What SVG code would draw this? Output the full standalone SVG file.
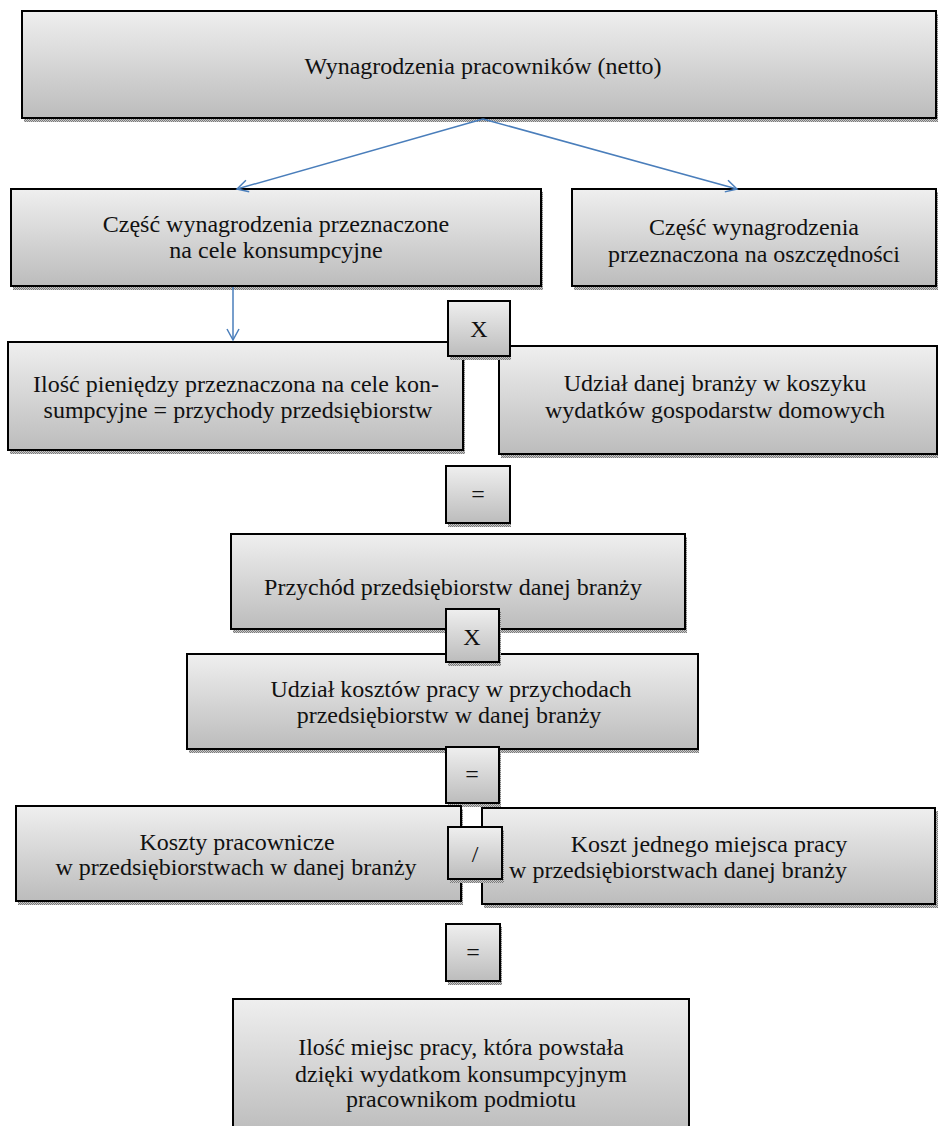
<svg xmlns="http://www.w3.org/2000/svg" width="939" height="1126" viewBox="0 0 939 1126">
<defs>
<linearGradient id="g" x1="0" y1="0" x2="0" y2="1">
<stop offset="0" stop-color="#efefef"/>
<stop offset="1" stop-color="#bcbcbc"/>
</linearGradient>
<pattern id="sh" width="2" height="2" patternUnits="userSpaceOnUse">
<rect width="2" height="2" fill="#c8c8c8"/>
<rect width="1" height="1" fill="#7a7a7a"/>
<rect x="1" y="1" width="1" height="1" fill="#7a7a7a"/>
</pattern>
<marker id="ah" markerWidth="14" markerHeight="14" refX="12" refY="7" orient="auto" markerUnits="userSpaceOnUse">
<path d="M1,1 L12,7 L1,13" fill="none" stroke="#4a7ebb" stroke-width="1.5"/>
</marker>
</defs>
<style>
.s{fill:url(#sh)}
.b{fill:url(#g);stroke:#000;stroke-width:2}
.t{font-family:'Liberation Serif','Times New Roman',serif;font-size:24px;fill:#111;text-anchor:middle}
.c{fill:none;stroke:#4a7ebb;stroke-width:1.5}
</style>
<rect width="939" height="1126" fill="#fff"/>

<g id="n-top">
<rect class="s" x="24" y="14" width="914" height="108"/>
<rect class="b" x="22" y="11" width="914" height="107"/>
<text class="t" x="483" y="74">Wynagrodzenia pracowników (netto)</text>
</g>

<g id="n-consumption">
<rect class="s" x="13" y="192" width="530" height="98"/>
<rect class="b" x="11" y="189" width="530" height="97"/>
<text class="t" x="276" y="232">Część wynagrodzenia przeznaczone</text>
<text class="t" x="276" y="258">na cele konsumpcyjne</text>
</g>

<g id="n-savings">
<rect class="s" x="574" y="192" width="364" height="98"/>
<rect class="b" x="572" y="189" width="364" height="97"/>
<text class="t" x="754" y="235">Część wynagrodzenia</text>
<text class="t" x="754" y="262">przeznaczona na oszczędności</text>
</g>

<g id="n-money">
<rect class="s" x="10" y="345" width="455" height="109"/>
<rect class="b" x="8" y="342" width="455" height="108"/>
<text class="t" x="236" y="392">Ilość pieniędzy przeznaczona na cele kon-</text>
<text class="t" x="238" y="418">sumpcyjne = przychody przedsiębiorstw</text>
</g>

<g id="n-share">
<rect class="s" x="501" y="349" width="437" height="109"/>
<rect class="b" x="499" y="346" width="438" height="108"/>
<text class="t" x="715" y="391">Udział danej branży w koszyku</text>
<text class="t" x="715" y="418">wydatków gospodarstw domowych</text>
</g>

<g id="op-x1">
<rect class="s" x="450" y="304" width="61" height="56"/>
<rect class="b" x="448" y="301" width="62" height="55"/>
<text class="t" x="479" y="337">X</text>
</g>

<g id="op-eq1">
<rect class="s" x="448" y="469" width="63" height="58"/>
<rect class="b" x="446" y="466" width="64" height="57"/>
<text class="t" x="478" y="502">=</text>
</g>

<g id="n-revenue">
<rect class="s" x="233" y="537" width="454" height="96"/>
<rect class="b" x="231" y="534" width="454" height="95"/>
<text class="t" x="453" y="595">Przychód przedsiębiorstw danej branży</text>
</g>

<g id="n-laborshare">
<rect class="s" x="189" y="657" width="510" height="96"/>
<rect class="b" x="187" y="654" width="511" height="95"/>
<text class="t" x="451" y="697">Udział kosztów pracy w przychodach</text>
<text class="t" x="449" y="723">przedsiębiorstw w danej branży</text>
</g>

<g id="op-x2">
<rect class="s" x="448" y="612" width="53" height="54"/>
<rect class="b" x="446" y="609" width="53" height="53"/>
<text class="t" x="472" y="645">X</text>
</g>

<g id="op-eq2">
<rect class="s" x="448" y="750" width="53" height="57"/>
<rect class="b" x="446" y="747" width="53" height="56"/>
<text class="t" x="472" y="782">=</text>
</g>

<g id="n-laborcost">
<rect class="s" x="18" y="809" width="445" height="96"/>
<rect class="b" x="16" y="806" width="445" height="95"/>
<text class="t" x="237" y="850">Koszty pracownicze</text>
<text class="t" x="236" y="875">w przedsiębiorstwach w danej branży</text>
</g>

<g id="n-jobcost">
<rect class="s" x="484" y="811" width="454" height="97"/>
<rect class="b" x="482" y="808" width="453" height="96"/>
<text class="t" x="709" y="852">Koszt jednego miejsca pracy</text>
<text class="t" x="678" y="878">w przedsiębiorstwach danej branży</text>
</g>

<g id="op-div">
<rect class="s" x="450" y="830" width="54" height="53"/>
<rect class="b" x="448" y="827" width="54" height="52"/>
<text class="t" x="475" y="862">/</text>
</g>

<g id="op-eq3">
<rect class="s" x="448" y="927" width="54" height="58"/>
<rect class="b" x="446" y="924" width="54" height="57"/>
<text class="t" x="473" y="960">=</text>
</g>

<g id="n-result">
<rect class="b" x="233" y="999" width="456" height="135"/>
<text class="t" x="461" y="1055">Ilość miejsc pracy, która powstała</text>
<text class="t" x="461" y="1082">dzięki wydatkom konsumpcyjnym</text>
<text class="t" x="461" y="1107">pracownikom podmiotu</text>
</g>

<g id="connectors">
<line class="c" x1="483" y1="119" x2="237" y2="189" marker-end="url(#ah)"/>
<line class="c" x1="483" y1="119" x2="737" y2="189" marker-end="url(#ah)"/>
<line class="c" x1="233" y1="287" x2="233" y2="340" marker-end="url(#ah)"/>
</g>
</svg>
